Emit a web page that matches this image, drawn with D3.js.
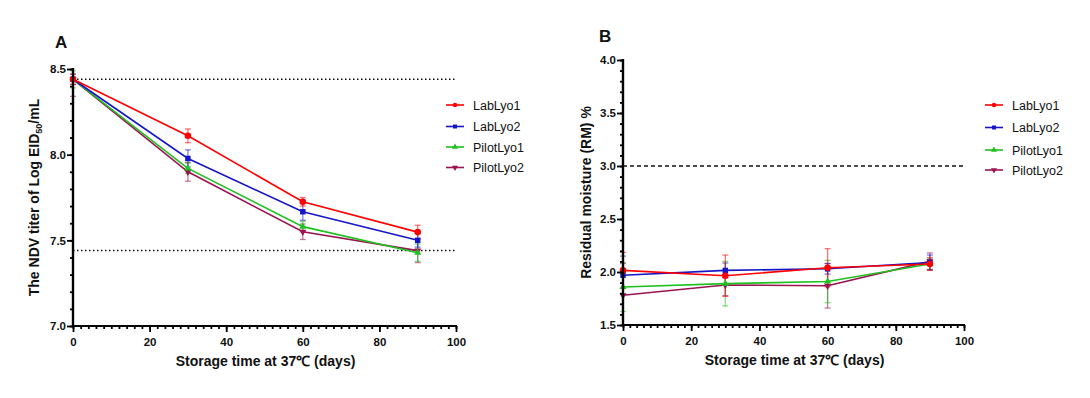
<!DOCTYPE html>
<html><head><meta charset="utf-8">
<script src="https://cdn.jsdelivr.net/npm/d3@7/dist/d3.min.js"></script>
<style>
body{margin:0;background:#fff;}
svg{font-family:"Liberation Sans",Arial,sans-serif;}
</style></head>
<body><svg id="c" width="1090" height="398"></svg>
<script>
const days = [0, 30, 60, 90];
const seriesNames = ["LabLyo1", "LabLyo2", "PilotLyo1", "PilotLyo2"];
const colors = ["#ff0000", "#1616c8", "#1fc01f", "#9a1452"];
const symbols = [d3.symbolCircle, d3.symbolSquare, d3.symbolTriangle, "down"];

// Panel A: NDV titer (Log EID50/mL)
const titerLabLyo1 = [8.44, 8.11, 7.725, 7.548];
const titerLabLyo2 = [8.44, 7.978, 7.667, 7.50];
const titerPilotLyo1 = [8.44, 7.92, 7.58, 7.428];
const titerPilotLyo2 = [8.44, 7.90, 7.55, 7.44];
const titerErrLabLyo1 = [0.03, 0.04, 0.025, 0.04];
const titerErrLabLyo2 = [0.03, 0.05, 0.05, 0.04];
const titerErrPilotLyo1 = [0.05, 0.03, 0.03, 0.05];
const titerErrPilotLyo2 = [0.10, 0.055, 0.045, 0.07];
const titerRefLines = [8.44, 7.44];
const titerTicks = [7.0, 7.5, 8.0, 8.5];

// Panel B: residual moisture (%)
const rmLabLyo1 = [2.015, 1.965, 2.04, 2.075];
const rmLabLyo2 = [1.97, 2.015, 2.03, 2.09];
const rmPilotLyo1 = [1.858, 1.89, 1.91, 2.075];
const rmPilotLyo2 = [1.78, 1.877, 1.87, 2.10];
const rmErrLabLyo1 = [0.17, 0.195, 0.18, 0.06];
const rmErrLabLyo2 = [0.18, 0.07, 0.05, 0.07];
const rmErrPilotLyo1 = [0.23, 0.21, 0.2, 0.05];
const rmErrPilotLyo2 = [0.30, 0.10, 0.21, 0.08];
const rmRefLines = [3.0];
const rmTicks = [1.5, 2.0, 2.5, 3.0, 3.5, 4.0];
const xTicks = [0, 20, 40, 60, 80, 100];

const svg = d3.select("#c");

function symPath(s, size) {
  if (s === "down") {
    return d3.symbol(d3.symbolTriangle, size)() ;
  }
  return d3.symbol(s, size)();
}

function panel(cfg) {
  const x = d3.scaleLinear().domain([0, 100]).range([cfg.x0, cfg.x1]);
  const y = d3.scaleLinear().domain(cfg.ydom).range([cfg.yb, cfg.yt]);
  const g = svg.append("g");
  const clipId = "clip" + cfg.label;
  svg.append("clipPath").attr("id", clipId).append("rect")
    .attr("x", cfg.x0 - 10).attr("y", cfg.yt).attr("width", cfg.x1 - cfg.x0 + 20).attr("height", cfg.yb - cfg.yt);

  // reference lines
  cfg.ref.forEach(v => {
    g.append("line").attr("x1", x(0)).attr("x2", x(cfg.refEnd)).attr("y1", y(v)).attr("y2", y(v))
      .attr("stroke", "#111").attr("stroke-width", cfg.refW).attr("stroke-dasharray", cfg.refDash);
  });

  const data = cfg.series;
  const order = [3, 2, 1, 0];
  const plot = g.append("g").attr("clip-path", `url(#${clipId})`);
  order.forEach(i => {
    const vals = data[i], errs = cfg.errs[i];
    const eg = plot.append("g").attr("stroke", colors[i]).attr("stroke-opacity", 0.55).attr("stroke-width", 1.3);
    days.forEach((d, j) => {
      const cx = x(d), lo = y(vals[j] - errs[j]), hi = y(vals[j] + errs[j]);
      eg.append("line").attr("x1", cx).attr("x2", cx).attr("y1", lo).attr("y2", hi);
      eg.append("line").attr("x1", cx - 3).attr("x2", cx + 3).attr("y1", lo).attr("y2", lo);
      eg.append("line").attr("x1", cx - 3).attr("x2", cx + 3).attr("y1", hi).attr("y2", hi);
    });
  });
  order.forEach(i => {
    const vals = data[i];
    const line = d3.line().x((d, j) => x(days[j])).y(d => y(d));
    plot.append("path").attr("d", line(vals)).attr("fill", "none")
      .attr("stroke", colors[i]).attr("stroke-width", 1.6);
    vals.forEach((v, j) => {
      plot.append("path").attr("d", symPath(symbols[i], i === 0 ? 34 : (i === 1 ? 30 : 22)))
        .attr("transform", `translate(${x(days[j])},${y(v)})` + (symbols[i] === "down" ? " rotate(180)" : ""))
        .attr("fill", colors[i]);
    });
  });

  // axes
  const xAxis = g.append("g").attr("transform", `translate(0,${cfg.yb})`);
  xAxis.call(d3.axisBottom(x).tickValues(d3.range(0, 101, 2)).tickSize(3).tickFormat(""));
  xAxis.append("g").call(d3.axisBottom(x).tickValues(xTicks).tickSize(6).tickFormat(d3.format("d")));
  xAxis.selectAll("path.domain").attr("stroke-width", 2.2).attr("d", `M${cfg.x0 - 1},0H${cfg.x1 + 1}`);
  xAxis.selectAll(".tick line").attr("stroke-width", 1.8);
  xAxis.selectAll("text").attr("font-size", 11.5).attr("font-weight", "bold").attr("fill", "#111")
    .attr("font-family", "Liberation Sans, Arial, sans-serif").attr("dy", "0.95em");

  const yAxis = g.append("g").attr("transform", `translate(${cfg.x0},0)`);
  yAxis.call(d3.axisLeft(y).tickValues(d3.range(Math.round(cfg.ydom[0] * 10), Math.round(cfg.ydom[1] * 10) + 1).map(v => v / 10)).tickSize(3).tickFormat(""));
  yAxis.append("g").call(d3.axisLeft(y).tickValues(cfg.yTicks).tickSize(6).tickFormat(d3.format(".1f")));
  yAxis.selectAll("path.domain").attr("stroke-width", 2.2).attr("d", `M0,${cfg.yt - 1}V${cfg.yb + 1}`);
  yAxis.selectAll(".tick line").attr("stroke-width", 1.8);
  yAxis.selectAll("text").attr("font-size", 11.5).attr("font-weight", "bold").attr("fill", "#111")
    .attr("font-family", "Liberation Sans, Arial, sans-serif").attr("x", -7);

  // labels
  svg.append("text").attr("x", (cfg.x0 + cfg.x1) / 2 + 1).attr("y", cfg.yb + 40).attr("text-anchor", "middle")
    .attr("font-size", 14).attr("font-weight", "bold").attr("fill", "#111").text("Storage time at 37℃ (days)");
  const yl = svg.append("text").attr("transform", `translate(${cfg.ylx},${(cfg.yt + cfg.yb) / 2}) rotate(-90)`)
    .attr("text-anchor", "middle").attr("font-size", 14).attr("font-weight", "bold").attr("fill", "#111");
  cfg.ylabel(yl);
  svg.append("text").attr("x", cfg.lx).attr("y", cfg.ly).attr("font-size", 17).attr("font-weight", "bold")
    .attr("fill", "#111").text(cfg.label);

  // legend
  const lg = svg.append("g");
  seriesNames.forEach((n, i) => {
    const yy = cfg.legY[i];
    lg.append("line").attr("x1", cfg.legX).attr("x2", cfg.legX + 18).attr("y1", yy).attr("y2", yy)
      .attr("stroke", colors[i]).attr("stroke-width", 1.6);
    lg.append("path").attr("d", symPath(symbols[i], 16))
      .attr("transform", `translate(${cfg.legX + 9},${yy})` + (symbols[i] === "down" ? " rotate(180)" : ""))
      .attr("fill", colors[i]);
    lg.append("text").attr("x", cfg.legX + 27).attr("y", yy + 4.5).attr("font-size", 12.5).attr("fill", "#111").text(n);
  });
}

panel({
  label: "A", lx: 55, ly: 48,
  x0: 73, x1: 456, yt: 69, yb: 326, ydom: [7.0, 8.5], yTicks: titerTicks,
  series: [titerLabLyo1, titerLabLyo2, titerPilotLyo1, titerPilotLyo2],
  errs: [titerErrLabLyo1, titerErrLabLyo2, titerErrPilotLyo1, titerErrPilotLyo2],
  ref: titerRefLines, refEnd: 100, refDash: "1.5,2.5", refW: 1.5,
  ylx: 39,
  ylabel: t => { t.append("tspan").text("The NDV titer of Log EID");
                 t.append("tspan").attr("font-size", 9).attr("dy", 3).text("50");
                 t.append("tspan").attr("dy", -3).text("/mL"); },
  legX: 446, legY: [105, 126.5, 147, 167.5]
});

panel({
  label: "B", lx: 599, ly: 42,
  x0: 623, x1: 964, yt: 60, yb: 325, ydom: [1.5, 4.0], yTicks: rmTicks,
  series: [rmLabLyo1, rmLabLyo2, rmPilotLyo1, rmPilotLyo2],
  errs: [rmErrLabLyo1, rmErrLabLyo2, rmErrPilotLyo1, rmErrPilotLyo2],
  ref: rmRefLines, refEnd: 100, refDash: "4,3", refW: 1.5,
  ylx: 591,
  ylabel: t => t.text("Residual moisture (RM) %"),
  legX: 985, legY: [105, 127.5, 150, 170]
});
</script></body></html>
